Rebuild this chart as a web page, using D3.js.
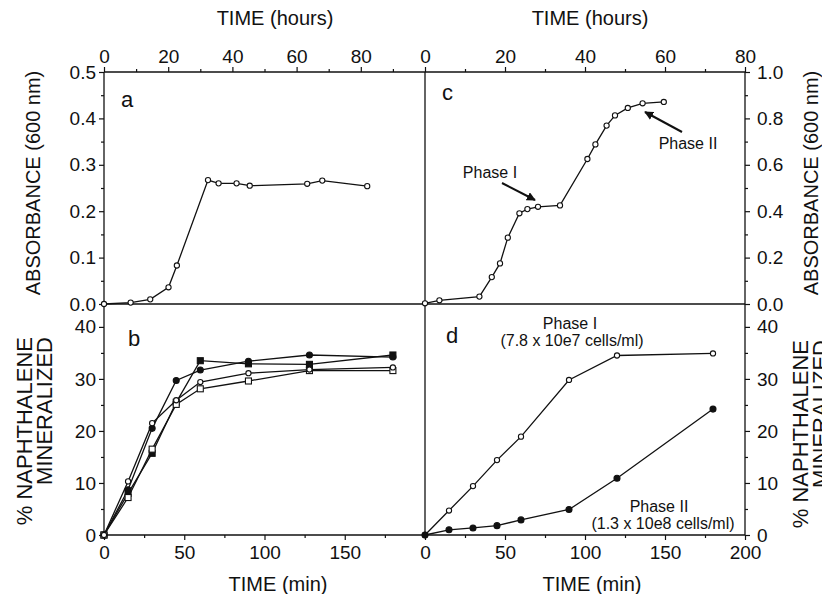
<!DOCTYPE html>
<html lang="en">
    <head>
        <meta charset="utf-8">
        <title>Naphthalene growth and mineralization</title>
        <script src="https://d3js.org/d3.v7.min.js"></script>
        <style type="text/css">
            body { margin: 0; background: #fff; }
            .axis text { font-family: "Liberation Sans", Arial, sans-serif; font-size: 19px; fill: #111; }
            .axis line { stroke: #111; stroke-width: 1.2; }
            .axis path { display: none; }
            text { font-family: "Liberation Sans", Arial, sans-serif; fill: #111; }
        </style>
    </head>
    <body>
        <script type="text/javascript">

            //1. Chart size and frame

            const svgW = 822;
            const svgH = 594;

            const plotL = 104, plotMidX = 425, plotR = 745;
            const plotT = 72, plotMidY = 304, plotB = 535;


            //2. Data

            // panel a: absorbance vs time (hours)
            const hoursA = [0, 8.3, 14.4, 20.1, 22.7, 32.4, 35.7, 41.3, 45.4, 63.3, 68, 82];
            const absA   = [0.0, 0.003, 0.01, 0.036, 0.083, 0.267, 0.26, 0.26, 0.255, 0.259, 0.266, 0.254];

            // panel c: absorbance vs time (hours)
            const hoursC = [0, 3.6, 13.6, 16.7, 18.75, 20.7, 23.6, 25.6, 28.25, 33.75, 40.6, 42.6, 45.4, 47.5, 50.7, 54.4, 59.7];
            const absC   = [0.003, 0.016, 0.032, 0.116, 0.175, 0.286, 0.391, 0.409, 0.419, 0.425, 0.625, 0.688, 0.769, 0.813, 0.845, 0.865, 0.871];

            // panel b: % mineralized vs time (min), four cultures
            const minB = [0, 15, 30, 45, 60, 90, 128, 180];
            const filledCircleB = [0, 8.7, 20.5, 29.7, 31.7, 33.4, 34.6, 34.2];
            const filledSquareB = [0, 8.0, 15.7, 25.5, 33.5, 32.9, 32.8, 34.6];
            const openCircleB   = [0, 10.3, 21.5, 25.9, 29.4, 31.1, 31.8, 32.2];
            const openSquareB   = [0, 7.2, 16.5, 25.1, 28.1, 29.6, 31.6, 31.6];

            // panel d: % mineralized vs time (min), phase I and phase II cells
            const minD = [0, 15, 30, 45, 60, 90, 120, 180];
            const phase1D = [0, 4.7, 9.4, 14.4, 18.9, 29.8, 34.5, 34.9];
            const phase2D = [0, 1.0, 1.35, 1.8, 2.9, 4.9, 10.9, 24.2];

            // tick labels
            const hourTicksA = [0, 20, 40, 60, 80];
            const hourTicksC = [0, 20, 40, 60, 80];
            const minTicksB = [0, 50, 100, 150];
            const minTicksD = [0, 50, 100, 150, 200];
            const absTicksA = [0, 0.1, 0.2, 0.3, 0.4, 0.5];
            const absTicksC = [0, 0.2, 0.4, 0.6, 0.8, 1.0];
            const pctTicks = [0, 10, 20, 30, 40];


            //3. Scales

            const xA = d3.scaleLinear().domain([0, 100]).range([plotL, plotMidX]);
            const xC = d3.scaleLinear().domain([0, 80]).range([plotMidX, plotR]);
            const xB = d3.scaleLinear().domain([0, 200]).range([plotL, plotMidX]);
            const xD = d3.scaleLinear().domain([0, 200]).range([plotMidX, plotR]);

            const yA = d3.scaleLinear().domain([0, 0.5]).range([plotMidY, plotT]);
            const yC = d3.scaleLinear().domain([0, 1.0]).range([plotMidY, plotT]);
            const yP = d3.scaleLinear().domain([0, 44.4]).range([plotB, plotMidY]);


            //4. SVG

            const svg = d3.select("body")
                        .append("svg")
                        .attr("width", svgW)
                        .attr("height", svgH);


            //5. Axes (major with labels, minor without)

            function addAxis(axisFn, scale, major, minor, fmt, transform, pad) {
                svg.append("g")
                    .attr("class", "axis")
                    .attr("transform", transform)
                    .call(axisFn(scale).tickValues(major).tickSize(5).tickSizeOuter(0)
                        .tickPadding(pad).tickFormat(fmt));
                svg.append("g")
                    .attr("class", "axis")
                    .attr("transform", transform)
                    .call(axisFn(scale).tickValues(minor).tickSize(3).tickSizeOuter(0).tickFormat(""));
            }

            const f0 = d3.format("d");
            const f1 = d3.format(".1f");

            addAxis(d3.axisTop, xA, hourTicksA, [10, 30, 50, 70, 90], f0, "translate(0," + plotT + ")", 4);
            addAxis(d3.axisTop, xC, hourTicksC, [10, 30, 50, 70], f0, "translate(0," + plotT + ")", 4);
            addAxis(d3.axisBottom, xB, minTicksB, [25, 75, 125, 175], f0, "translate(0," + plotB + ")", 6);
            addAxis(d3.axisBottom, xD, minTicksD, [25, 75, 125, 175], f0, "translate(0," + plotB + ")", 6);
            addAxis(d3.axisLeft, yA, absTicksA, [0.05, 0.15, 0.25, 0.35, 0.45], f1, "translate(" + plotL + ",0)", 3);
            addAxis(d3.axisLeft, yP, pctTicks, [5, 15, 25, 35], f0, "translate(" + plotL + ",0)", 3);
            addAxis(d3.axisRight, yC, absTicksC, [0.1, 0.3, 0.5, 0.7, 0.9], f1, "translate(" + plotR + ",0)", 7);
            addAxis(d3.axisRight, yP, pctTicks, [5, 15, 25, 35], f0, "translate(" + plotR + ",0)", 7);


            //6. Frame lines

            const frame = [
                [plotL, plotT, plotR, plotT], [plotL, plotB, plotR, plotB],
                [plotL, plotT, plotL, plotB], [plotR, plotT, plotR, plotB],
                [plotMidX, plotT, plotMidX, plotB], [plotL, plotMidY, plotR, plotMidY]
            ];
            svg.selectAll("line.frame")
                .data(frame)
                .enter()
                .append("line")
                .attr("class", "frame")
                .attr("x1", d => d[0]).attr("y1", d => d[1])
                .attr("x2", d => d[2]).attr("y2", d => d[3])
                .attr("stroke", "#111")
                .attr("stroke-width", 1.3);


            //7. Series lines and markers

            function drawSeries(xs, ys, xScale, yScale, shape, filled) {
                const pts = xs.map((x, i) => [xScale(x), yScale(ys[i])]);
                svg.append("path")
                    .attr("d", d3.line()(pts))
                    .attr("fill", "none")
                    .attr("stroke", "#111")
                    .attr("stroke-width", 1.3);

                const g = svg.append("g");
                if (shape === "circle") {
                    g.selectAll("circle")
                        .data(pts)
                        .enter()
                        .append("circle")
                        .attr("cx", d => d[0])
                        .attr("cy", d => d[1])
                        .attr("r", filled ? 3 : 2.6)
                        .attr("fill", filled ? "#111" : "#fff")
                        .attr("stroke", "#111")
                        .attr("stroke-width", 1.1);
                } else {
                    g.selectAll("rect")
                        .data(pts)
                        .enter()
                        .append("rect")
                        .attr("x", d => d[0] - 3)
                        .attr("y", d => d[1] - 3)
                        .attr("width", 6)
                        .attr("height", 6)
                        .attr("fill", filled ? "#111" : "#fff")
                        .attr("stroke", "#111")
                        .attr("stroke-width", 1.1);
                }
            }

            drawSeries(hoursA, absA, xA, yA, "circle", false);
            drawSeries(hoursC, absC, xC, yC, "circle", false);

            drawSeries(minB, filledSquareB, xB, yP, "square", true);
            drawSeries(minB, filledCircleB, xB, yP, "circle", true);
            drawSeries(minB, openSquareB, xB, yP, "square", false);
            drawSeries(minB, openCircleB, xB, yP, "circle", false);

            drawSeries(minD, phase1D, xD, yP, "circle", false);
            drawSeries(minD, phase2D, xD, yP, "circle", true);


            //8. Panel letters and annotations

            const letters = [["a", 121, 107], ["c", 442, 100], ["b", 128, 346], ["d", 446, 343]];
            svg.selectAll("text.letter")
                .data(letters)
                .enter()
                .append("text")
                .attr("class", "letter")
                .attr("x", d => d[1])
                .attr("y", d => d[2])
                .attr("font-size", "22px")
                .text(d => d[0]);

            const notes = [
                ["Phase I", 490, 178], ["Phase II", 688, 149],
                ["Phase I", 570, 329], ["(7.8 x 10e7 cells/ml)", 572, 346],
                ["Phase II", 659, 512], ["(1.3 x 10e8 cells/ml)", 663, 529]
            ];
            svg.selectAll("text.note")
                .data(notes)
                .enter()
                .append("text")
                .attr("class", "note")
                .attr("x", d => d[1])
                .attr("y", d => d[2])
                .attr("text-anchor", "middle")
                .attr("font-size", "16px")
                .text(d => d[0]);

            svg.append("defs").append("marker")
                .attr("id", "head")
                .attr("viewBox", "0 0 10 10")
                .attr("refX", 9).attr("refY", 5)
                .attr("markerWidth", 4.5).attr("markerHeight", 4.5)
                .attr("orient", "auto")
                .append("path")
                .attr("d", "M0,0 L10,5 L0,10 Z")
                .attr("fill", "#111");

            const arrows = [[502, 183, 535, 200], [682, 132, 645, 112]];
            svg.selectAll("line.arrow")
                .data(arrows)
                .enter()
                .append("line")
                .attr("class", "arrow")
                .attr("x1", d => d[0]).attr("y1", d => d[1])
                .attr("x2", d => d[2]).attr("y2", d => d[3])
                .attr("stroke", "#111")
                .attr("stroke-width", 2)
                .attr("marker-end", "url(#head)");


            //9. Axis titles

            const titles = [
                ["TIME (hours)", 275, 25], ["TIME (hours)", 590, 25],
                ["TIME (min)", 278, 591], ["TIME (min)", 592, 591]
            ];
            svg.selectAll("text.title")
                .data(titles)
                .enter()
                .append("text")
                .attr("class", "title")
                .attr("x", d => d[1])
                .attr("y", d => d[2])
                .attr("text-anchor", "middle")
                .attr("font-size", "20px")
                .text(d => d[0]);

            // rotated titles: [text, x, y, anchor, size]
            const sideTitles = [
                ["ABSORBANCE (600 nm)", 40, 183, "middle", 20],
                ["ABSORBANCE (600 nm)", 818, 183, "middle", 20],
                ["% NAPHTHALENE", 32, 337, "end", 22],
                ["MINERALIZED", 52, 337, "end", 22],
                ["% NAPHTHALENE", 808, 340, "end", 22],
                ["MINERALIZED", 828, 340, "end", 22]
            ];
            svg.selectAll("text.side")
                .data(sideTitles)
                .enter()
                .append("text")
                .attr("class", "side")
                .attr("transform", d => "translate(" + d[1] + "," + d[2] + ") rotate(-90)")
                .attr("text-anchor", d => d[3])
                .attr("font-size", d => d[4] + "px")
                .text(d => d[0]);

        </script>
    </body>
</html>
